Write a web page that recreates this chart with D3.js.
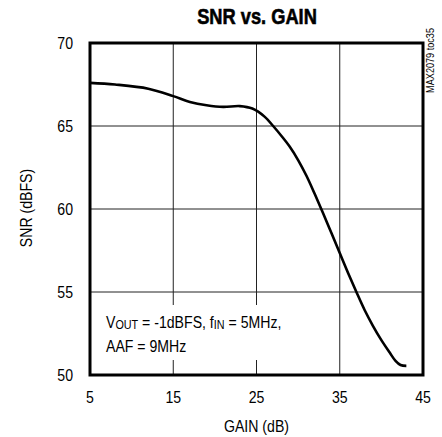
<!DOCTYPE html>
<html>
<head>
<meta charset="utf-8">
<script src="https://cdn.jsdelivr.net/npm/d3@7"></script>
<style>
  body { margin: 0; background: #fff; }
  text { font-family: "Liberation Sans", Arial, sans-serif; fill: #000; }
</style>
</head>
<body>
<div id="vizDiv"></div>
<script>
var width = 442
var height = 437

// curve
var gain = [5, 8, 12, 15, 17, 19, 21, 23, 24.5, 26, 27, 28, 29, 30, 31, 32, 33, 34, 35, 36, 37, 38, 39, 40, 41, 41.7, 42.3, 43]
var snr = [67.6, 67.5, 67.25, 66.8, 66.45, 66.25, 66.15, 66.2, 66.05, 65.55, 65.0, 64.4, 63.75, 62.95, 62.0, 60.9, 59.75, 58.55, 57.35, 56.15, 55.0, 53.9, 52.95, 52.1, 51.35, 50.85, 50.6, 50.55]

var xTicks = [5, 15, 25, 35, 45]
var yTicks = [50, 55, 60, 65, 70]

var plotLeft = 90, plotRight = 423, plotTop = 43, plotBottom = 375
var narrow = 0.83

var svg = d3.select("#vizDiv")
  .append("svg")
  .attr("width", width)
  .attr("height", height)

var x = d3.scaleLinear().domain([5, 45]).range([plotLeft, plotRight])
var y = d3.scaleLinear().domain([50, 70]).range([plotBottom, plotTop])

// condensed looking text
function addText(px, py, str, size, anchor, rot) {
  return svg.append("text")
    .attr("transform", "translate(" + px + "," + py + ")" + (rot ? " rotate(" + rot + ")" : "") + " scale(" + narrow + ",1)")
    .attr("text-anchor", anchor || "start")
    .attr("font-size", size)
    .text(str)
}

// grid
svg.append("g")
  .selectAll("line")
  .data(xTicks.slice(1, -1))
  .enter().append("line")
  .attr("x1", d => x(d)).attr("x2", d => x(d))
  .attr("y1", plotTop).attr("y2", plotBottom)
  .attr("stroke", "#222").attr("stroke-width", 1)

svg.append("g")
  .selectAll("line")
  .data(yTicks.slice(1, -1))
  .enter().append("line")
  .attr("x1", plotLeft).attr("x2", plotRight)
  .attr("y1", d => y(d)).attr("y2", d => y(d))
  .attr("stroke", "#222").attr("stroke-width", 1)

// white box behind the note
svg.append("rect")
  .attr("x", plotLeft + 2).attr("y", 305)
  .attr("width", 208).attr("height", 55)
  .attr("fill", "#fff")

// curve
var line = d3.line()
  .x((d, i) => x(gain[i]))
  .y(d => y(d))
  .curve(d3.curveCatmullRom.alpha(0.5))

svg.append("path")
  .attr("d", line(snr))
  .attr("fill", "none")
  .attr("stroke", "black")
  .attr("stroke-width", 2.6)

// frame
svg.append("rect")
  .attr("x", plotLeft).attr("y", plotTop)
  .attr("width", plotRight - plotLeft).attr("height", plotBottom - plotTop)
  .attr("fill", "none")
  .attr("stroke", "black")
  .attr("stroke-width", 3)

// tick labels
xTicks.forEach(function (d) { addText(x(d), 403, d, 17, "middle") })
yTicks.forEach(function (d) { addText(73, y(d) + 6, d, 17, "end") })

// titles
addText(257, 24, "SNR vs. GAIN", 22, "middle")
  .attr("font-weight", "bold")
  .attr("stroke", "#000").attr("stroke-width", 0.6)

addText((plotLeft + plotRight) / 2, 432, "GAIN (dB)", 17, "middle")
addText(32, 208, "SNR (dBFS)", 17, "middle", -90)
addText(434, 28, "MAX2079 toc35", 11, "end", -90)

// note
var note = addText(106, 328, "", 17, "start")
note.append("tspan").text("V")
note.append("tspan").attr("font-size", 13).attr("dy", 1).text("OUT")
note.append("tspan").attr("dy", -1).text(" = -1dBFS, f")
note.append("tspan").attr("font-size", 13).attr("dy", 1).text("IN")
note.append("tspan").attr("dy", -1).text(" = 5MHz,")

addText(106, 352, "AAF = 9MHz", 17, "start")
</script>
</body>
</html>
